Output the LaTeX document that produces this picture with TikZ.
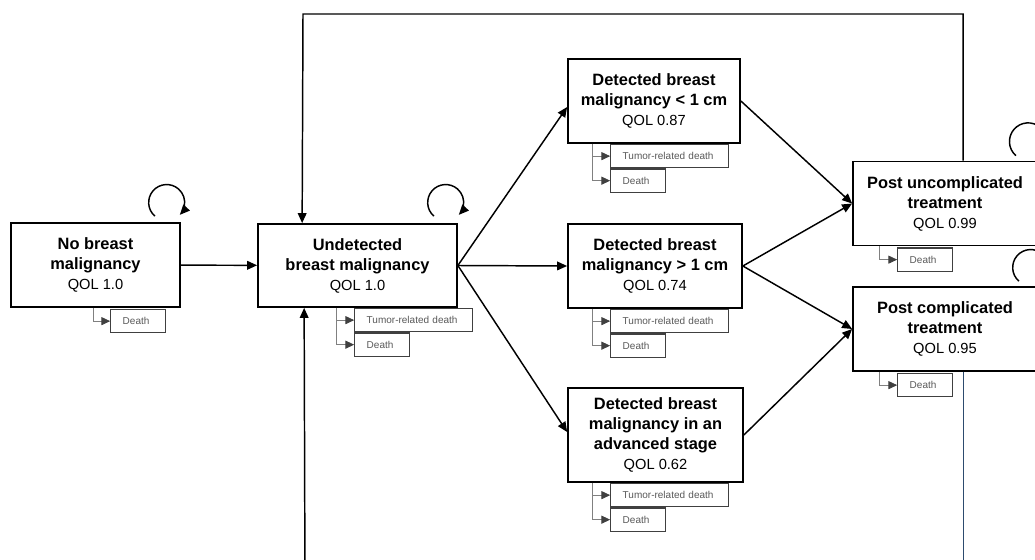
\documentclass[tikz,border=0pt]{standalone}
\usepackage{fontspec}
\setmainfont{Liberation Sans}
\usetikzlibrary{arrows.meta,calc,positioning}
\definecolor{backblue}{RGB}{45,75,110}
\newcommand{\qol}[1]{{\normalfont\fontsize{11}{15}\selectfont QOL #1}}
\tikzset{
  statebox/.style={draw,line width=1.3pt,fill=white,align=center,
    font=\fontsize{12.3}{15}\selectfont\bfseries,minimum height=63pt,inner sep=2pt},
  riskbox/.style={draw=black!75,line width=0.9pt,fill=white,anchor=north west,
    font=\fontsize{7.5}{9}\selectfont,text=black!65,inner xsep=9pt,inner ysep=2pt,
    minimum height=17.5pt,align=left},
  deathbox/.style={riskbox,text width=23pt},
  tumorbox/.style={riskbox,text width=70.5pt},
  arr/.style={line width=1.1pt,-{Triangle[length=7.5pt,width=6.5pt]}},
  feed/.style={draw=black!50,line width=0.6pt,-{Triangle[length=6.5pt,width=6pt,color=black!75]}},
  backline/.style={draw=backblue,line width=0.7pt}
}
\begin{document}
\begin{tikzpicture}[x=0.75pt,y=-0.75pt]
    \path[use as bounding box,clip] (0,0) rectangle (1035,560);
    \node[statebox,minimum width=126.75pt] (nobm) at (95.5,265) {No breast\\malignancy\\\qol{1.0}};
    \node[statebox,minimum width=149.25pt,minimum height=62.25pt] (undet) at (357.5,265.5) {Undetected\\breast malignancy\\\qol{1.0}};
    \node[statebox,minimum width=129pt] (small) at (654,101) {Detected breast\\malignancy < 1 cm\\\qol{0.87}};
    \node[statebox,minimum width=130.5pt] (large) at (655,266) {Detected breast\\malignancy > 1 cm\\\qol{0.74}};
    \node[statebox,minimum width=131.25pt,minimum height=70.5pt] (adv) at (655.5,435) {Detected breast\\malignancy in an\\advanced stage\\\qol{0.62}};
    \node[statebox,minimum width=138pt] (uncompl) at (945,203.5) {Post uncomplicated\\treatment\\\qol{0.99}};
    \node[statebox,minimum width=138pt] (compl) at (945,329) {Post complicated\\treatment\\\qol{0.95}};
    \node[deathbox] (dNobm) at ($(nobm.south west)+(100,1)$) {Death};
    \node[tumorbox] (tUndet) at ($(undet.south west)+(97,0)$) {Tumor-related death};
    \node[deathbox] (dUndet) at (tUndet.south west) {Death};
    \node[tumorbox] (tSmall) at ($(small.south west)+(43,0)$) {Tumor-related death};
    \node[deathbox] (dSmall) at (tSmall.south west) {Death};
    \node[tumorbox] (tLarge) at ($(large.south west)+(43,0)$) {Tumor-related death};
    \node[deathbox] (dLarge) at (tLarge.south west) {Death};
    \node[tumorbox] (tAdv) at ($(adv.south west)+(43,0)$) {Tumor-related death};
    \node[deathbox] (dAdv) at (tAdv.south west) {Death};
    \node[deathbox] (dUncompl) at ($(uncompl.south west)+(45,1)$) {Death};
    \node[deathbox] (dCompl) at ($(compl.south west)+(45,1)$) {Death};
    \draw[feed] ($(nobm.south west)+(83,0)$) |- (dNobm.west);
    \draw[feed] ($(undet.south west)+(79,0)$) |- (tUndet.west);
    \draw[feed] ($(undet.south west)+(79,0)$) |- (dUndet.west);
    \draw[feed] ($(small.south west)+(25,0)$) |- (tSmall.west);
    \draw[feed] ($(small.south west)+(25,0)$) |- (dSmall.west);
    \draw[feed] ($(large.south west)+(25,0)$) |- (tLarge.west);
    \draw[feed] ($(large.south west)+(25,0)$) |- (dLarge.west);
    \draw[feed] ($(adv.south west)+(25,0)$) |- (tAdv.west);
    \draw[feed] ($(adv.south west)+(25,0)$) |- (dAdv.west);
    \draw[feed] ($(uncompl.south west)+(27,0)$) |- (dUncompl.west);
    \draw[feed] ($(compl.south west)+(27,0)$) |- (dCompl.west);
    \draw[arr] (nobm) -- (undet);
    \draw[arr] (undet.east) -- ($(small.west)+(0,6)$);
    \draw[arr] (undet.east) -- (large.west);
    \draw[arr] (undet.east) -- ($(adv.west)+(0,-3)$);
    \draw[arr] (small.east) -- (uncompl.west);
    \draw[arr] (large.east) -- (uncompl.west);
    \draw[arr] (large.east) -- (compl.west);
    \draw[arr] (adv.east) -- (compl.west);
    \draw[arr] ($(nobm.north east)+(-26,-6)$) arc[start angle=229,end angle=-43,radius=13.5pt];
    \draw[arr] ($(undet.north east)+(-24,-7)$) arc[start angle=229,end angle=-43,radius=13.5pt];
    \draw[arr] ($(uncompl.north east)+(-22,-5)$) arc[start angle=229,end angle=-43,radius=14pt];
    \draw[arr] ($(compl.north east)+(-19,-5)$) arc[start angle=229,end angle=-43,radius=13.5pt];
    \coordinate (topbend) at (303,14);
    \coordinate (botbend) at (305,590);
    \draw[arr] ($(uncompl.north west)+(111,0)$) |- (topbend) -- ($(undet.north west)+(45,0)$);
    \draw[backline] ($(compl.south west)+(111,0)$) |- (botbend);
    \draw[arr] (botbend) -- ($(undet.south west)+(47,0)$);
\end{tikzpicture}
\end{document}
